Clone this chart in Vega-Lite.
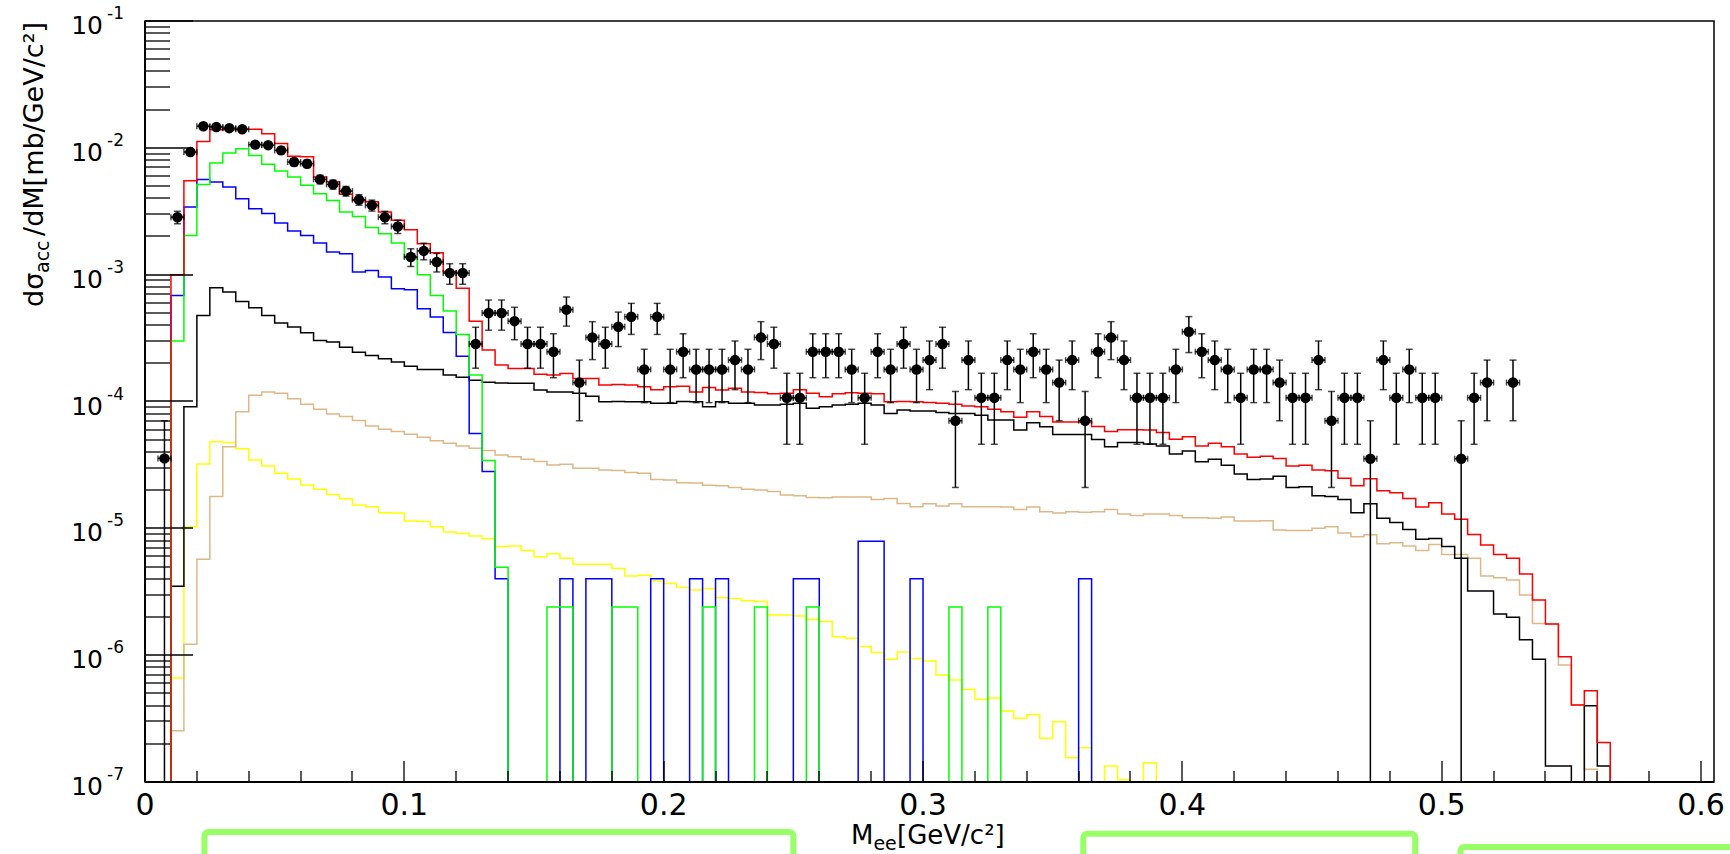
{
  "$schema": "https://vega.github.io/schema/vega-lite/v6.json",
  "autosize": {"type": "none"},
  "width": 1569,
  "height": 761,
  "padding": {"left": 145, "top": 21, "right": 16, "bottom": 72},
  "background": "white",
  "config": {
    "view": {"stroke": "black", "strokeWidth": 1.5},
    "font": "DejaVu Sans",
    "axis": {
      "grid": false,
      "labelFont": "DejaVu Sans",
      "titleFont": "DejaVu Sans",
      "labelColor": "black",
      "titleColor": "black",
      "tickColor": "black",
      "domainColor": "black",
      "titleFontWeight": "normal",
      "labelOverlap": false,
      "labelFlush": false,
      "labelBound": false,
      "translate": 0,
      "zindex": 2
    }
  },
  "datasets": {
    "hist": [
      {"lo":0,"red":1e-7,"green":1e-7,"blue":1e-7,"black":1e-7,"tan":1e-7,"yellow":1e-7},
      {"lo":0.005,"red":1e-7,"green":1e-7,"blue":1e-7,"black":1e-7,"tan":1e-7,"yellow":1e-7},
      {"lo":0.01,"red":1.0e-3,"green":3.0e-4,"blue":6.86e-4,"black":3.5e-6,"tan":2.54e-7,"yellow":6.6e-7},
      {"lo":0.015,"red":5.5e-3,"green":2.04e-3,"blue":3.41e-3,"black":9.1e-5,"tan":1.22e-6,"yellow":1.03e-5},
      {"lo":0.02,"red":1.12e-2,"green":5.15e-3,"blue":5.64e-3,"black":4.77e-4,"tan":5.7e-6,"yellow":3.21e-5},
      {"lo":0.025,"red":1.39e-2,"green":7.6e-3,"blue":5.37e-3,"black":7.88e-4,"tan":1.78e-5,"yellow":4.82e-5},
      {"lo":0.03,"red":1.39e-2,"green":9.1e-3,"blue":4.91e-3,"black":7.29e-4,"tan":4.4e-5,"yellow":4.74e-5},
      {"lo":0.035,"red":1.40e-2,"green":9.85e-3,"blue":3.97e-3,"black":6.15e-4,"tan":8.3e-5,"yellow":4.25e-5},
      {"lo":0.04,"red":1.40e-2,"green":8.72e-3,"blue":3.31e-3,"black":5.48e-4,"tan":1.12e-4,"yellow":3.46e-5},
      {"lo":0.045,"red":1.29e-2,"green":7.41e-3,"blue":3.03e-3,"black":4.77e-4,"tan":1.19e-4,"yellow":3.1e-5},
      {"lo":0.05,"red":1.08e-2,"green":6.56e-3,"blue":2.55e-3,"black":4.15e-4,"tan":1.16e-4,"yellow":2.72e-5},
      {"lo":0.055,"red":8.6e-3,"green":5.88e-3,"blue":2.21e-3,"black":3.86e-4,"tan":1.05e-4,"yellow":2.45e-5},
      {"lo":0.06,"red":8.5e-3,"green":5.06e-3,"blue":2.04e-3,"black":3.49e-4,"tan":9.5e-5,"yellow":2.2e-5},
      {"lo":0.065,"red":5.9e-3,"green":4.35e-3,"blue":1.78e-3,"black":3.03e-4,"tan":8.7e-5,"yellow":2.03e-5},
      {"lo":0.07,"red":5.4e-3,"green":3.85e-3,"blue":1.51e-3,"black":2.94e-4,"tan":7.97e-5,"yellow":1.85e-5},
      {"lo":0.075,"red":4.3e-3,"green":3.12e-3,"blue":1.46e-3,"black":2.68e-4,"tan":7.6e-5,"yellow":1.71e-5},
      {"lo":0.08,"red":3.85e-3,"green":2.88e-3,"blue":1.05e-3,"black":2.45e-4,"tan":7.07e-5,"yellow":1.53e-5},
      {"lo":0.085,"red":3.75e-3,"green":2.35e-3,"blue":1.08e-3,"black":2.31e-4,"tan":6.41e-5,"yellow":1.48e-5},
      {"lo":0.09,"red":3.12e-3,"green":2.1e-3,"blue":9.58e-4,"black":2.17e-4,"tan":6.04e-5,"yellow":1.33e-5},
      {"lo":0.095,"red":2.68e-3,"green":1.78e-3,"blue":7.75e-4,"black":2.05e-4,"tan":5.79e-5,"yellow":1.32e-5},
      {"lo":0.1,"red":2.26e-3,"green":1.36e-3,"blue":7.6e-4,"black":1.9e-4,"tan":5.51e-5,"yellow":1.14e-5},
      {"lo":0.105,"red":1.75e-3,"green":1.0e-3,"blue":5.38e-4,"black":1.79e-4,"tan":5.22e-5,"yellow":1.13e-5},
      {"lo":0.11,"red":1.49e-3,"green":6.86e-4,"blue":4.63e-4,"black":1.79e-4,"tan":4.91e-5,"yellow":1.03e-5},
      {"lo":0.115,"red":1.06e-3,"green":5.16e-4,"blue":3.5e-4,"black":1.62e-4,"tan":4.68e-5,"yellow":9.35e-6},
      {"lo":0.12,"red":7.8e-4,"green":3.38e-4,"blue":2.27e-4,"black":1.55e-4,"tan":4.46e-5,"yellow":9.1e-6},
      {"lo":0.125,"red":4.3e-4,"green":1.62e-4,"blue":5.6e-5,"black":1.47e-4,"tan":4.27e-5,"yellow":8.7e-6},
      {"lo":0.13,"red":2.55e-4,"green":3.42e-5,"blue":2.8e-5,"black":1.42e-4,"tan":4.1e-5,"yellow":8.3e-6},
      {"lo":0.135,"red":1.94e-4,"green":4.93e-6,"blue":4.0e-6,"black":1.40e-4,"tan":3.79e-5,"yellow":7.2e-6},
      {"lo":0.14,"red":1.82e-4,"green":1e-7,"blue":1e-7,"black":1.39e-4,"tan":3.67e-5,"yellow":7.25e-6},
      {"lo":0.145,"red":1.82e-4,"green":1e-7,"blue":1e-7,"black":1.39e-4,"tan":3.5e-5,"yellow":6.7e-6},
      {"lo":0.15,"red":1.64e-4,"green":1e-7,"blue":1e-7,"black":1.23e-4,"tan":3.36e-5,"yellow":5.97e-6},
      {"lo":0.155,"red":1.62e-4,"green":2.4e-6,"blue":1e-7,"black":1.19e-4,"tan":3.16e-5,"yellow":6.3e-6},
      {"lo":0.16,"red":1.66e-4,"green":2.4e-6,"blue":4.0e-6,"black":1.19e-4,"tan":3.2e-5,"yellow":5.8e-6},
      {"lo":0.165,"red":1.52e-4,"green":1e-7,"blue":1e-7,"black":1.16e-4,"tan":2.97e-5,"yellow":5.2e-6},
      {"lo":0.17,"red":1.52e-4,"green":1e-7,"blue":4.0e-6,"black":1.1e-4,"tan":2.97e-5,"yellow":5.2e-6},
      {"lo":0.175,"red":1.35e-4,"green":1e-7,"blue":4.0e-6,"black":9.96e-5,"tan":2.88e-5,"yellow":5.2e-6},
      {"lo":0.18,"red":1.36e-4,"green":2.4e-6,"blue":1e-7,"black":1.0e-4,"tan":2.86e-5,"yellow":4.83e-6},
      {"lo":0.185,"red":1.35e-4,"green":2.4e-6,"blue":1e-7,"black":9.96e-5,"tan":2.75e-5,"yellow":4.2e-6},
      {"lo":0.19,"red":1.31e-4,"green":1e-7,"blue":1e-7,"black":9.96e-5,"tan":2.72e-5,"yellow":4.27e-6},
      {"lo":0.195,"red":1.24e-4,"green":1e-7,"blue":4.0e-6,"black":9.67e-5,"tan":2.43e-5,"yellow":3.84e-6},
      {"lo":0.2,"red":1.31e-4,"green":1e-7,"blue":1e-7,"black":9.67e-5,"tan":2.41e-5,"yellow":3.68e-6},
      {"lo":0.205,"red":1.32e-4,"green":1e-7,"blue":1e-7,"black":1.0e-4,"tan":2.29e-5,"yellow":3.42e-6},
      {"lo":0.21,"red":1.19e-4,"green":1e-7,"blue":4.0e-6,"black":9.96e-5,"tan":2.28e-5,"yellow":3.26e-6},
      {"lo":0.215,"red":1.29e-4,"green":2.4e-6,"blue":1e-7,"black":9.1e-5,"tan":2.19e-5,"yellow":3.35e-6},
      {"lo":0.22,"red":1.23e-4,"green":1e-7,"blue":4.0e-6,"black":9.96e-5,"tan":2.17e-5,"yellow":2.84e-6},
      {"lo":0.225,"red":1.27e-4,"green":1e-7,"blue":1e-7,"black":9.67e-5,"tan":2.1e-5,"yellow":2.8e-6},
      {"lo":0.23,"red":1.19e-4,"green":1e-7,"blue":1e-7,"black":9.67e-5,"tan":2.03e-5,"yellow":2.69e-6},
      {"lo":0.235,"red":1.18e-4,"green":2.4e-6,"blue":1e-7,"black":9.37e-5,"tan":2.01e-5,"yellow":2.65e-6},
      {"lo":0.24,"red":1.15e-4,"green":1e-7,"blue":1e-7,"black":9.37e-5,"tan":1.95e-5,"yellow":2.07e-6},
      {"lo":0.245,"red":1.16e-4,"green":1e-7,"blue":1e-7,"black":9.5e-5,"tan":1.83e-5,"yellow":2.07e-6},
      {"lo":0.25,"red":1.24e-4,"green":1e-7,"blue":4.0e-6,"black":9.67e-5,"tan":1.81e-5,"yellow":2.04e-6},
      {"lo":0.255,"red":1.16e-4,"green":2.4e-6,"blue":4.0e-6,"black":8.83e-5,"tan":1.75e-5,"yellow":1.91e-6},
      {"lo":0.26,"red":1.09e-4,"green":1e-7,"blue":1e-7,"black":9.1e-5,"tan":1.74e-5,"yellow":1.84e-6},
      {"lo":0.265,"red":1.15e-4,"green":1e-7,"blue":1e-7,"black":9.37e-5,"tan":1.77e-5,"yellow":1.4e-6},
      {"lo":0.27,"red":1.17e-4,"green":1e-7,"blue":1e-7,"black":9.5e-5,"tan":1.77e-5,"yellow":1.36e-6},
      {"lo":0.275,"red":1.16e-4,"green":1e-7,"blue":7.9e-6,"black":9.7e-5,"tan":1.77e-5,"yellow":1.17e-6},
      {"lo":0.28,"red":1.15e-4,"green":1e-7,"blue":7.9e-6,"black":9.37e-5,"tan":1.69e-5,"yellow":1.05e-6},
      {"lo":0.285,"red":9.97e-5,"green":1e-7,"blue":1e-7,"black":8.05e-5,"tan":1.72e-5,"yellow":9.3e-7},
      {"lo":0.29,"red":1.0e-4,"green":1e-7,"blue":1e-7,"black":8.57e-5,"tan":1.57e-5,"yellow":1.06e-6},
      {"lo":0.295,"red":9.97e-5,"green":1e-7,"blue":4.0e-6,"black":8.4e-5,"tan":1.48e-5,"yellow":9.4e-7},
      {"lo":0.3,"red":9.8e-5,"green":1e-7,"blue":1e-7,"black":8.4e-5,"tan":1.56e-5,"yellow":9.0e-7},
      {"lo":0.305,"red":9.7e-5,"green":1e-7,"blue":1e-7,"black":8.2e-5,"tan":1.5e-5,"yellow":6.97e-7},
      {"lo":0.31,"red":9.5e-5,"green":2.4e-6,"blue":1e-7,"black":8.05e-5,"tan":1.56e-5,"yellow":6.37e-7},
      {"lo":0.315,"red":9.2e-5,"green":1e-7,"blue":1e-7,"black":8.05e-5,"tan":1.48e-5,"yellow":5.37e-7},
      {"lo":0.32,"red":9.1e-5,"green":1e-7,"blue":1e-7,"black":7.8e-5,"tan":1.48e-5,"yellow":4.48e-7},
      {"lo":0.325,"red":8.7e-5,"green":2.4e-6,"blue":1e-7,"black":7.14e-5,"tan":1.48e-5,"yellow":4.6e-7},
      {"lo":0.33,"red":8.3e-5,"green":1e-7,"blue":1e-7,"black":7.14e-5,"tan":1.47e-5,"yellow":3.63e-7},
      {"lo":0.335,"red":7.5e-5,"green":1e-7,"blue":1e-7,"black":5.96e-5,"tan":1.41e-5,"yellow":3.18e-7},
      {"lo":0.34,"red":8.3e-5,"green":1e-7,"blue":1e-7,"black":6.8e-5,"tan":1.47e-5,"yellow":3.4e-7},
      {"lo":0.345,"red":7.6e-5,"green":1e-7,"blue":1e-7,"black":6.33e-5,"tan":1.35e-5,"yellow":2.21e-7},
      {"lo":0.35,"red":6.9e-5,"green":1e-7,"blue":1e-7,"black":5.5e-5,"tan":1.32e-5,"yellow":2.99e-7},
      {"lo":0.355,"red":6.9e-5,"green":1e-7,"blue":1e-7,"black":5.5e-5,"tan":1.35e-5,"yellow":1.55e-7},
      {"lo":0.36,"red":6.9e-5,"green":1e-7,"blue":4.0e-6,"black":5.5e-5,"tan":1.34e-5,"yellow":1.86e-7},
      {"lo":0.365,"red":6.35e-5,"green":1e-7,"blue":1e-7,"black":5.02e-5,"tan":1.35e-5,"yellow":1e-7},
      {"lo":0.37,"red":5.8e-5,"green":1e-7,"blue":1e-7,"black":4.4e-5,"tan":1.41e-5,"yellow":1.34e-7},
      {"lo":0.375,"red":6.0e-5,"green":1e-7,"blue":1e-7,"black":4.76e-5,"tan":1.3e-5,"yellow":1.04e-7},
      {"lo":0.38,"red":6.0e-5,"green":1e-7,"blue":1e-7,"black":4.76e-5,"tan":1.26e-5,"yellow":1e-7},
      {"lo":0.385,"red":5.95e-5,"green":1e-7,"blue":1e-7,"black":4.62e-5,"tan":1.3e-5,"yellow":1.42e-7},
      {"lo":0.39,"red":5.7e-5,"green":1e-7,"blue":1e-7,"black":4.45e-5,"tan":1.3e-5,"yellow":1e-7},
      {"lo":0.395,"red":5.03e-5,"green":1e-7,"blue":1e-7,"black":3.85e-5,"tan":1.26e-5,"yellow":1e-7},
      {"lo":0.4,"red":5.28e-5,"green":1e-7,"blue":1e-7,"black":4.07e-5,"tan":1.21e-5,"yellow":1e-7},
      {"lo":0.405,"red":4.46e-5,"green":1e-7,"blue":1e-7,"black":3.35e-5,"tan":1.21e-5,"yellow":1e-7},
      {"lo":0.41,"red":4.68e-5,"green":1e-7,"blue":1e-7,"black":3.5e-5,"tan":1.2e-5,"yellow":1e-7},
      {"lo":0.415,"red":4.4e-5,"green":1e-7,"blue":1e-7,"black":3.15e-5,"tan":1.23e-5,"yellow":1e-7},
      {"lo":0.42,"red":3.86e-5,"green":1e-7,"blue":1e-7,"black":2.68e-5,"tan":1.14e-5,"yellow":1e-7},
      {"lo":0.425,"red":3.63e-5,"green":1e-7,"blue":1e-7,"black":2.43e-5,"tan":1.14e-5,"yellow":1e-7},
      {"lo":0.43,"red":3.7e-5,"green":1e-7,"blue":1e-7,"black":2.45e-5,"tan":1.15e-5,"yellow":1e-7},
      {"lo":0.435,"red":3.56e-5,"green":1e-7,"blue":1e-7,"black":2.58e-5,"tan":9.7e-6,"yellow":1e-7},
      {"lo":0.44,"red":3.1e-5,"green":1e-7,"blue":1e-7,"black":2.1e-5,"tan":9.6e-6,"yellow":1e-7},
      {"lo":0.445,"red":3.15e-5,"green":1e-7,"blue":1e-7,"black":2.13e-5,"tan":9.6e-6,"yellow":1e-7},
      {"lo":0.45,"red":2.88e-5,"green":1e-7,"blue":1e-7,"black":1.81e-5,"tan":1.0e-5,"yellow":1e-7},
      {"lo":0.455,"red":2.84e-5,"green":1e-7,"blue":1e-7,"black":1.78e-5,"tan":1.03e-5,"yellow":1e-7},
      {"lo":0.46,"red":2.48e-5,"green":1e-7,"blue":1e-7,"black":1.69e-5,"tan":9.2e-6,"yellow":1e-7},
      {"lo":0.465,"red":2.17e-5,"green":1e-7,"blue":1e-7,"black":1.33e-5,"tan":8.6e-6,"yellow":1e-7},
      {"lo":0.47,"red":2.46e-5,"green":1e-7,"blue":1e-7,"black":1.56e-5,"tan":8.9e-6,"yellow":1e-7},
      {"lo":0.475,"red":1.98e-5,"green":1e-7,"blue":1e-7,"black":1.2e-5,"tan":7.55e-6,"yellow":1e-7},
      {"lo":0.48,"red":1.91e-5,"green":1e-7,"blue":1e-7,"black":1.11e-5,"tan":7.7e-6,"yellow":1e-7},
      {"lo":0.485,"red":1.72e-5,"green":1e-7,"blue":1e-7,"black":9.8e-6,"tan":7.25e-6,"yellow":1e-7},
      {"lo":0.49,"red":1.47e-5,"green":1e-7,"blue":1e-7,"black":8.2e-6,"tan":6.7e-6,"yellow":1e-7},
      {"lo":0.495,"red":1.59e-5,"green":1e-7,"blue":1e-7,"black":8.3e-6,"tan":7.47e-6,"yellow":1e-7},
      {"lo":0.5,"red":1.3e-5,"green":1e-7,"blue":1e-7,"black":7.2e-6,"tan":6.23e-6,"yellow":1e-7},
      {"lo":0.505,"red":1.18e-5,"green":1e-7,"blue":1e-7,"black":5.8e-6,"tan":6.23e-6,"yellow":1e-7},
      {"lo":0.51,"red":8.95e-6,"green":1e-7,"blue":1e-7,"black":3.2e-6,"tan":5.8e-6,"yellow":1e-7},
      {"lo":0.515,"red":7.4e-6,"green":1e-7,"blue":1e-7,"black":3.2e-6,"tan":4.2e-6,"yellow":1e-7},
      {"lo":0.52,"red":6.23e-6,"green":1e-7,"blue":1e-7,"black":2.11e-6,"tan":4.08e-6,"yellow":1e-7},
      {"lo":0.525,"red":5.8e-6,"green":1e-7,"blue":1e-7,"black":1.99e-6,"tan":3.91e-6,"yellow":1e-7},
      {"lo":0.53,"red":4.36e-6,"green":1e-7,"blue":1e-7,"black":1.32e-6,"tan":2.98e-6,"yellow":1e-7},
      {"lo":0.535,"red":2.72e-6,"green":1e-7,"blue":1e-7,"black":9.3e-7,"tan":1.78e-6,"yellow":1e-7},
      {"lo":0.54,"red":1.76e-6,"green":1e-7,"blue":1e-7,"black":1.34e-7,"tan":1.76e-6,"yellow":1e-7},
      {"lo":0.545,"red":9.7e-7,"green":1e-7,"blue":1e-7,"black":1.34e-7,"tan":8.36e-7,"yellow":1e-7},
      {"lo":0.55,"red":4.05e-7,"green":1e-7,"blue":1e-7,"black":1e-7,"tan":4.05e-7,"yellow":1e-7},
      {"lo":0.555,"red":5.25e-7,"green":1e-7,"blue":1e-7,"black":4.0e-7,"tan":1.26e-7,"yellow":1e-7},
      {"lo":0.56,"red":2.05e-7,"green":1e-7,"blue":1e-7,"black":1.34e-7,"tan":1e-7,"yellow":1e-7},
      {"lo":0.565,"red":1e-7,"green":1e-7,"blue":1e-7,"black":1e-7,"tan":1e-7,"yellow":1e-7}
    ],
    "pts": [
      {"m":0.0075,"m0":0.005,"m1":0.01,"v":3.56e-5,"lo":1e-7,"hi":7.05e-5},
      {"m":0.0125,"m0":0.01,"m1":0.015,"v":2.84e-3,"lo":2.52e-3,"hi":3.16e-3},
      {"m":0.0175,"m0":0.015,"m1":0.02,"v":9.27e-3,"lo":8.7e-3,"hi":9.84e-3},
      {"m":0.0225,"m0":0.02,"m1":0.025,"v":1.48e-2,"lo":1.41e-2,"hi":1.55e-2},
      {"m":0.0275,"m0":0.025,"m1":0.03,"v":1.46e-2,"lo":1.39e-2,"hi":1.53e-2},
      {"m":0.0325,"m0":0.03,"m1":0.035,"v":1.43e-2,"lo":1.36e-2,"hi":1.50e-2},
      {"m":0.0375,"m0":0.035,"m1":0.04,"v":1.40e-2,"lo":1.33e-2,"hi":1.47e-2},
      {"m":0.0425,"m0":0.04,"m1":0.045,"v":1.06e-2,"lo":1.0e-2,"hi":1.12e-2},
      {"m":0.0475,"m0":0.045,"m1":0.05,"v":1.05e-2,"lo":9.9e-3,"hi":1.11e-2},
      {"m":0.0525,"m0":0.05,"m1":0.055,"v":9.55e-3,"lo":8.97e-3,"hi":1.01e-2},
      {"m":0.0575,"m0":0.055,"m1":0.06,"v":7.73e-3,"lo":7.21e-3,"hi":8.25e-3},
      {"m":0.0625,"m0":0.06,"m1":0.065,"v":7.5e-3,"lo":6.99e-3,"hi":8.01e-3},
      {"m":0.0675,"m0":0.065,"m1":0.07,"v":5.64e-3,"lo":5.2e-3,"hi":6.08e-3},
      {"m":0.0725,"m0":0.07,"m1":0.075,"v":5.15e-3,"lo":4.73e-3,"hi":5.57e-3},
      {"m":0.0775,"m0":0.075,"m1":0.08,"v":4.56e-3,"lo":4.16e-3,"hi":4.96e-3},
      {"m":0.0825,"m0":0.08,"m1":0.085,"v":3.9e-3,"lo":3.53e-3,"hi":4.27e-3},
      {"m":0.0875,"m0":0.085,"m1":0.09,"v":3.52e-3,"lo":3.17e-3,"hi":3.87e-3},
      {"m":0.0925,"m0":0.09,"m1":0.095,"v":2.84e-3,"lo":2.52e-3,"hi":3.16e-3},
      {"m":0.0975,"m0":0.095,"m1":0.1,"v":2.4e-3,"lo":2.11e-3,"hi":2.69e-3},
      {"m":0.1025,"m0":0.1,"m1":0.105,"v":1.38e-3,"lo":1.16e-3,"hi":1.6e-3},
      {"m":0.1075,"m0":0.105,"m1":0.11,"v":1.54e-3,"lo":1.31e-3,"hi":1.77e-3},
      {"m":0.1125,"m0":0.11,"m1":0.115,"v":1.26e-3,"lo":1.05e-3,"hi":1.47e-3},
      {"m":0.1175,"m0":0.115,"m1":0.12,"v":1.03e-3,"lo":8.4e-4,"hi":1.22e-3},
      {"m":0.1225,"m0":0.12,"m1":0.125,"v":1.03e-3,"lo":8.4e-4,"hi":1.22e-3},
      {"m":0.1275,"m0":0.125,"m1":0.13,"v":2.84e-4,"lo":1.83e-4,"hi":3.85e-4},
      {"m":0.1325,"m0":0.13,"m1":0.135,"v":4.98e-4,"lo":3.65e-4,"hi":6.31e-4},
      {"m":0.1375,"m0":0.135,"m1":0.14,"v":4.98e-4,"lo":3.65e-4,"hi":6.31e-4},
      {"m":0.1425,"m0":0.14,"m1":0.145,"v":4.3e-4,"lo":3.07e-4,"hi":5.53e-4},
      {"m":0.1475,"m0":0.145,"m1":0.15,"v":2.84e-4,"lo":1.83e-4,"hi":3.85e-4},
      {"m":0.1525,"m0":0.15,"m1":0.155,"v":2.84e-4,"lo":1.83e-4,"hi":3.85e-4},
      {"m":0.1575,"m0":0.155,"m1":0.16,"v":2.47e-4,"lo":1.54e-4,"hi":3.42e-4},
      {"m":0.1625,"m0":0.16,"m1":0.165,"v":5.3e-4,"lo":3.93e-4,"hi":6.67e-4},
      {"m":0.1675,"m0":0.165,"m1":0.17,"v":1.41e-4,"lo":7.05e-5,"hi":2.12e-4},
      {"m":0.1725,"m0":0.17,"m1":0.175,"v":3.2e-4,"lo":2.14e-4,"hi":4.26e-4},
      {"m":0.1775,"m0":0.175,"m1":0.18,"v":2.84e-4,"lo":1.83e-4,"hi":3.85e-4},
      {"m":0.1825,"m0":0.18,"m1":0.185,"v":3.89e-4,"lo":2.71e-4,"hi":5.07e-4},
      {"m":0.1875,"m0":0.185,"m1":0.19,"v":4.66e-4,"lo":3.38e-4,"hi":5.94e-4},
      {"m":0.1925,"m0":0.19,"m1":0.195,"v":1.79e-4,"lo":9.8e-5,"hi":2.58e-4},
      {"m":0.1975,"m0":0.195,"m1":0.2,"v":4.66e-4,"lo":3.38e-4,"hi":5.94e-4},
      {"m":0.2025,"m0":0.2,"m1":0.205,"v":1.79e-4,"lo":9.8e-5,"hi":2.58e-4},
      {"m":0.2075,"m0":0.205,"m1":0.21,"v":2.47e-4,"lo":1.54e-4,"hi":3.42e-4},
      {"m":0.2125,"m0":0.21,"m1":0.215,"v":1.79e-4,"lo":9.8e-5,"hi":2.58e-4},
      {"m":0.2175,"m0":0.215,"m1":0.22,"v":1.79e-4,"lo":9.8e-5,"hi":2.58e-4},
      {"m":0.2225,"m0":0.22,"m1":0.225,"v":1.79e-4,"lo":9.8e-5,"hi":2.58e-4},
      {"m":0.2275,"m0":0.225,"m1":0.23,"v":2.12e-4,"lo":1.24e-4,"hi":3.0e-4},
      {"m":0.2325,"m0":0.23,"m1":0.235,"v":1.79e-4,"lo":9.8e-5,"hi":2.58e-4},
      {"m":0.2375,"m0":0.235,"m1":0.24,"v":3.2e-4,"lo":2.14e-4,"hi":4.26e-4},
      {"m":0.2425,"m0":0.24,"m1":0.245,"v":2.84e-4,"lo":1.83e-4,"hi":3.85e-4},
      {"m":0.2475,"m0":0.245,"m1":0.25,"v":1.07e-4,"lo":4.6e-5,"hi":1.67e-4},
      {"m":0.2525,"m0":0.25,"m1":0.255,"v":1.07e-4,"lo":4.6e-5,"hi":1.67e-4},
      {"m":0.2575,"m0":0.255,"m1":0.26,"v":2.47e-4,"lo":1.54e-4,"hi":3.42e-4},
      {"m":0.2625,"m0":0.26,"m1":0.265,"v":2.47e-4,"lo":1.54e-4,"hi":3.42e-4},
      {"m":0.2675,"m0":0.265,"m1":0.27,"v":2.47e-4,"lo":1.54e-4,"hi":3.42e-4},
      {"m":0.2725,"m0":0.27,"m1":0.275,"v":1.79e-4,"lo":9.8e-5,"hi":2.58e-4},
      {"m":0.2775,"m0":0.275,"m1":0.28,"v":1.07e-4,"lo":4.6e-5,"hi":1.67e-4},
      {"m":0.2825,"m0":0.28,"m1":0.285,"v":2.47e-4,"lo":1.54e-4,"hi":3.42e-4},
      {"m":0.2875,"m0":0.285,"m1":0.29,"v":1.79e-4,"lo":9.8e-5,"hi":2.58e-4},
      {"m":0.2925,"m0":0.29,"m1":0.295,"v":2.84e-4,"lo":1.83e-4,"hi":3.85e-4},
      {"m":0.2975,"m0":0.295,"m1":0.3,"v":1.79e-4,"lo":9.8e-5,"hi":2.58e-4},
      {"m":0.3025,"m0":0.3,"m1":0.305,"v":2.12e-4,"lo":1.24e-4,"hi":3.0e-4},
      {"m":0.3075,"m0":0.305,"m1":0.31,"v":2.84e-4,"lo":1.83e-4,"hi":3.85e-4},
      {"m":0.3125,"m0":0.31,"m1":0.315,"v":7.05e-5,"lo":2.1e-5,"hi":1.2e-4},
      {"m":0.3175,"m0":0.315,"m1":0.32,"v":2.12e-4,"lo":1.24e-4,"hi":3.0e-4},
      {"m":0.3225,"m0":0.32,"m1":0.325,"v":1.07e-4,"lo":4.6e-5,"hi":1.67e-4},
      {"m":0.3275,"m0":0.325,"m1":0.33,"v":1.07e-4,"lo":4.6e-5,"hi":1.67e-4},
      {"m":0.3325,"m0":0.33,"m1":0.335,"v":2.12e-4,"lo":1.24e-4,"hi":3.0e-4},
      {"m":0.3375,"m0":0.335,"m1":0.34,"v":1.79e-4,"lo":9.8e-5,"hi":2.58e-4},
      {"m":0.3425,"m0":0.34,"m1":0.345,"v":2.47e-4,"lo":1.54e-4,"hi":3.42e-4},
      {"m":0.3475,"m0":0.345,"m1":0.35,"v":1.79e-4,"lo":9.8e-5,"hi":2.58e-4},
      {"m":0.3525,"m0":0.35,"m1":0.355,"v":1.41e-4,"lo":7.05e-5,"hi":2.12e-4},
      {"m":0.3575,"m0":0.355,"m1":0.36,"v":2.12e-4,"lo":1.24e-4,"hi":3.0e-4},
      {"m":0.3625,"m0":0.36,"m1":0.365,"v":7.05e-5,"lo":2.1e-5,"hi":1.2e-4},
      {"m":0.3675,"m0":0.365,"m1":0.37,"v":2.47e-4,"lo":1.54e-4,"hi":3.42e-4},
      {"m":0.3725,"m0":0.37,"m1":0.375,"v":3.2e-4,"lo":2.14e-4,"hi":4.26e-4},
      {"m":0.3775,"m0":0.375,"m1":0.38,"v":2.12e-4,"lo":1.24e-4,"hi":3.0e-4},
      {"m":0.3825,"m0":0.38,"m1":0.385,"v":1.07e-4,"lo":4.6e-5,"hi":1.67e-4},
      {"m":0.3875,"m0":0.385,"m1":0.39,"v":1.07e-4,"lo":4.6e-5,"hi":1.67e-4},
      {"m":0.3925,"m0":0.39,"m1":0.395,"v":1.07e-4,"lo":4.6e-5,"hi":1.67e-4},
      {"m":0.3975,"m0":0.395,"m1":0.4,"v":1.79e-4,"lo":9.8e-5,"hi":2.58e-4},
      {"m":0.4025,"m0":0.4,"m1":0.405,"v":3.55e-4,"lo":2.43e-4,"hi":4.67e-4},
      {"m":0.4075,"m0":0.405,"m1":0.41,"v":2.47e-4,"lo":1.54e-4,"hi":3.42e-4},
      {"m":0.4125,"m0":0.41,"m1":0.415,"v":2.12e-4,"lo":1.24e-4,"hi":3.0e-4},
      {"m":0.4175,"m0":0.415,"m1":0.42,"v":1.79e-4,"lo":9.8e-5,"hi":2.58e-4},
      {"m":0.4225,"m0":0.42,"m1":0.425,"v":1.07e-4,"lo":4.6e-5,"hi":1.67e-4},
      {"m":0.4275,"m0":0.425,"m1":0.43,"v":1.79e-4,"lo":9.8e-5,"hi":2.58e-4},
      {"m":0.4325,"m0":0.43,"m1":0.435,"v":1.79e-4,"lo":9.8e-5,"hi":2.58e-4},
      {"m":0.4375,"m0":0.435,"m1":0.44,"v":1.41e-4,"lo":7.05e-5,"hi":2.12e-4},
      {"m":0.4425,"m0":0.44,"m1":0.445,"v":1.07e-4,"lo":4.6e-5,"hi":1.67e-4},
      {"m":0.4475,"m0":0.445,"m1":0.45,"v":1.07e-4,"lo":4.6e-5,"hi":1.67e-4},
      {"m":0.4525,"m0":0.45,"m1":0.455,"v":2.12e-4,"lo":1.24e-4,"hi":3.0e-4},
      {"m":0.4575,"m0":0.455,"m1":0.46,"v":7.05e-5,"lo":2.1e-5,"hi":1.2e-4},
      {"m":0.4625,"m0":0.46,"m1":0.465,"v":1.07e-4,"lo":4.6e-5,"hi":1.67e-4},
      {"m":0.4675,"m0":0.465,"m1":0.47,"v":1.07e-4,"lo":4.6e-5,"hi":1.67e-4},
      {"m":0.4725,"m0":0.47,"m1":0.475,"v":3.54e-5,"lo":1e-7,"hi":7.05e-5},
      {"m":0.4775,"m0":0.475,"m1":0.48,"v":2.12e-4,"lo":1.24e-4,"hi":3.0e-4},
      {"m":0.4825,"m0":0.48,"m1":0.485,"v":1.07e-4,"lo":4.6e-5,"hi":1.67e-4},
      {"m":0.4875,"m0":0.485,"m1":0.49,"v":1.79e-4,"lo":9.8e-5,"hi":2.58e-4},
      {"m":0.4925,"m0":0.49,"m1":0.495,"v":1.07e-4,"lo":4.6e-5,"hi":1.67e-4},
      {"m":0.4975,"m0":0.495,"m1":0.5,"v":1.07e-4,"lo":4.6e-5,"hi":1.67e-4},
      {"m":0.5075,"m0":0.505,"m1":0.51,"v":3.54e-5,"lo":1e-7,"hi":7.05e-5},
      {"m":0.5125,"m0":0.51,"m1":0.515,"v":1.07e-4,"lo":4.6e-5,"hi":1.67e-4},
      {"m":0.5175,"m0":0.515,"m1":0.52,"v":1.41e-4,"lo":7.05e-5,"hi":2.12e-4},
      {"m":0.5275,"m0":0.525,"m1":0.53,"v":1.41e-4,"lo":7.05e-5,"hi":2.12e-4}
    ],
    "boxes": [
      {"b0":0.0229,"b1":0.25,"top":4.04e-8,"bottom":1e-8},
      {"b0":0.3618,"b1":0.4898,"top":3.91e-8,"bottom":1e-8},
      {"b0":0.5072,"b1":0.63,"top":3.07e-8,"bottom":1e-8}
    ]
  },
  "resolve": {"axis": {"x": "independent", "y": "independent"}},
  "layer": [
    {
      "data": {"name": "hist"},
      "mark": {"type": "line", "interpolate": "step-after", "color": "#ffff00", "strokeWidth": 1.5},
      "encoding": {
        "x": {"field": "lo", "type": "quantitative",
          "scale": {"domain": [0, 0.605], "nice": false, "zero": false},
          "axis": {"orient": "bottom", "zindex": 2, "translate": 0, "values": [0, 0.1, 0.2, 0.3, 0.4, 0.5, 0.6],
            "ticks": false, "tickSize": 0, "domain": true, "domainWidth": 2.2,
            "labelFontSize": 30, "labelPadding": 9, "labelBaseline": "top",
            "labelExpr": "datum.value == 0 ? '0' : format(datum.value, '.1f')",
            "title": "M", "titleFontSize": 26,
            "titleX": 706, "titleY": 62, "titleAlign": "left", "titleBaseline": "alphabetic"}},
        "y": {"field": "yellow", "type": "quantitative",
          "scale": {"type": "log", "domain": [1e-7, 0.1], "nice": false},
          "axis": {"orient": "left", "zindex": 2, "translate": 0, "values": [1e-7, 1e-6, 1e-5, 1e-4, 1e-3, 1e-2, 1e-1],
            "ticks": false, "tickSize": 0, "domain": true, "domainWidth": 2,
            "labelExpr": "'10'", "labelFontSize": 25, "labelAlign": "right", "labelBaseline": "middle",
            "labelPadding": 42, "labelOffset": 5,
            "title": "dσ", "titleFontSize": 27, "titleAngle": 270, "titleAlign": "left",
            "titleBaseline": "alphabetic", "titleX": -102, "titleY": 286}}
      }
    },
    {
      "data": {"name": "hist"},
      "mark": {"type": "line", "interpolate": "step-after", "color": "#deb887", "strokeWidth": 1.5},
      "encoding": {
        "x": {"field": "lo", "type": "quantitative",
          "scale": {"domain": [0, 0.605], "nice": false, "zero": false},
          "axis": {"orient": "bottom", "zindex": 2, "translate": 0, "values": [0, 0.1, 0.2, 0.3, 0.4, 0.5, 0.6],
            "labels": false, "domain": false, "tickSize": -21, "tickWidth": 1.3,
            "title": "ee", "titleFontSize": 19,
            "titleX": 728.4, "titleY": 68, "titleAlign": "left", "titleBaseline": "alphabetic"}},
        "y": {"field": "tan", "type": "quantitative",
          "scale": {"type": "log", "domain": [1e-7, 0.1], "nice": false},
          "axis": {"orient": "left", "zindex": 2, "translate": 0, "values": [1e-7, 1e-6, 1e-5, 1e-4, 1e-3, 1e-2, 1e-1],
            "ticks": false, "tickSize": 0, "domain": false,
            "labelExpr": "'-' + format(-log(datum.value) / LN10, '.0f')",
            "labelFontSize": 17, "labelAlign": "left", "labelBaseline": "middle",
            "labelPadding": 38, "labelOffset": -7,
            "title": "acc", "titleFontSize": 19, "titleAngle": 270, "titleAlign": "left",
            "titleBaseline": "alphabetic", "titleX": -96, "titleY": 252}}
      }
    },
    {
      "data": {"name": "hist"},
      "mark": {"type": "line", "interpolate": "step-after", "color": "#000000", "strokeWidth": 1.5},
      "encoding": {
        "x": {"field": "lo", "type": "quantitative",
          "scale": {"domain": [0, 0.605], "nice": false, "zero": false},
          "axis": {"orient": "bottom", "zindex": 2, "translate": 0,
            "values": [0.02, 0.04, 0.06, 0.08, 0.12, 0.14, 0.16, 0.18, 0.22, 0.24, 0.26, 0.28, 0.32, 0.34, 0.36, 0.38, 0.42, 0.44, 0.46, 0.48, 0.52, 0.54, 0.56, 0.58],
            "labels": false, "domain": false, "tickSize": -11, "tickWidth": 1.3,
            "title": "[GeV/c²]", "titleFontSize": 26,
            "titleX": 752, "titleY": 62, "titleAlign": "left", "titleBaseline": "alphabetic"}},
        "y": {"field": "black", "type": "quantitative",
          "scale": {"type": "log", "domain": [1e-7, 0.1], "nice": false},
          "axis": {"orient": "left", "zindex": 2, "translate": 0, "values": [1e-7, 1e-6, 1e-5, 1e-4, 1e-3, 1e-2, 1e-1],
            "labels": false, "domain": false, "tickSize": -48, "tickWidth": 1.3,
            "title": "/dM[mb/GeV/c²]", "titleFontSize": 27, "titleAngle": 270, "titleAlign": "right",
            "titleBaseline": "alphabetic", "titleX": -102, "titleY": 1}}
      }
    },
    {
      "data": {"name": "hist"},
      "mark": {"type": "line", "interpolate": "step-after", "color": "#0000ff", "strokeWidth": 1.5},
      "encoding": {
        "x": {"field": "lo", "type": "quantitative", "scale": {"domain": [0, 0.605], "nice": false, "zero": false}, "axis": null},
        "y": {"field": "blue", "type": "quantitative",
          "scale": {"type": "log", "domain": [1e-7, 0.1], "nice": false},
          "axis": {"orient": "left", "zindex": 2, "translate": 0,
            "values": [2e-7, 3e-7, 4e-7, 5e-7, 6e-7, 7e-7, 8e-7, 9e-7, 2e-6, 3e-6, 4e-6, 5e-6, 6e-6, 7e-6, 8e-6, 9e-6, 2e-5, 3e-5, 4e-5, 5e-5, 6e-5, 7e-5, 8e-5, 9e-5, 2e-4, 3e-4, 4e-4, 5e-4, 6e-4, 7e-4, 8e-4, 9e-4, 2e-3, 3e-3, 4e-3, 5e-3, 6e-3, 7e-3, 8e-3, 9e-3, 2e-2, 3e-2, 4e-2, 5e-2, 6e-2, 7e-2, 8e-2, 9e-2],
            "labels": false, "domain": false, "tickSize": -25, "tickWidth": 1.3, "title": null}}
      }
    },
    {
      "data": {"name": "hist"},
      "mark": {"type": "line", "interpolate": "step-after", "color": "#00ff00", "strokeWidth": 1.5},
      "encoding": {
        "x": {"field": "lo", "type": "quantitative", "scale": {"domain": [0, 0.605], "nice": false, "zero": false}, "axis": null},
        "y": {"field": "green", "type": "quantitative", "scale": {"type": "log", "domain": [1e-7, 0.1], "nice": false}, "axis": null}
      }
    },
    {
      "data": {"name": "hist"},
      "mark": {"type": "line", "interpolate": "step-after", "color": "#ff0000", "strokeWidth": 1.5},
      "encoding": {
        "x": {"field": "lo", "type": "quantitative", "scale": {"domain": [0, 0.605], "nice": false, "zero": false}, "axis": null},
        "y": {"field": "red", "type": "quantitative", "scale": {"type": "log", "domain": [1e-7, 0.1], "nice": false}, "axis": null}
      }
    },
    {
      "data": {"name": "pts"},
      "mark": {"type": "rule", "color": "black", "strokeWidth": 1.5},
      "encoding": {
        "x": {"field": "m", "type": "quantitative", "scale": {"domain": [0, 0.605], "nice": false, "zero": false}, "axis": null},
        "y": {"field": "lo", "type": "quantitative", "scale": {"type": "log", "domain": [1e-7, 0.1], "nice": false}, "axis": null},
        "y2": {"field": "hi"}
      }
    },
    {
      "data": {"name": "pts"},
      "mark": {"type": "rule", "color": "black", "strokeWidth": 1.5},
      "encoding": {
        "x": {"field": "m0", "type": "quantitative", "scale": {"domain": [0, 0.605], "nice": false, "zero": false}, "axis": null},
        "x2": {"field": "m1"},
        "y": {"field": "v", "type": "quantitative", "scale": {"type": "log", "domain": [1e-7, 0.1], "nice": false}, "axis": null}
      }
    },
    {
      "data": {"name": "pts"},
      "mark": {"type": "tick", "orient": "horizontal", "size": 7, "thickness": 1.5, "color": "black"},
      "encoding": {
        "x": {"field": "m", "type": "quantitative", "scale": {"domain": [0, 0.605], "nice": false, "zero": false}, "axis": null},
        "y": {"field": "hi", "type": "quantitative", "scale": {"type": "log", "domain": [1e-7, 0.1], "nice": false}, "axis": null}
      }
    },
    {
      "data": {"name": "pts"},
      "transform": [{"filter": "datum.lo > 1.5e-7"}],
      "mark": {"type": "tick", "orient": "horizontal", "size": 7, "thickness": 1.5, "color": "black"},
      "encoding": {
        "x": {"field": "m", "type": "quantitative", "scale": {"domain": [0, 0.605], "nice": false, "zero": false}, "axis": null},
        "y": {"field": "lo", "type": "quantitative", "scale": {"type": "log", "domain": [1e-7, 0.1], "nice": false}, "axis": null}
      }
    },
    {
      "data": {"name": "pts"},
      "mark": {"type": "tick", "orient": "vertical", "size": 6, "thickness": 1.5, "color": "black"},
      "encoding": {
        "x": {"field": "m0", "type": "quantitative", "scale": {"domain": [0, 0.605], "nice": false, "zero": false}, "axis": null},
        "y": {"field": "v", "type": "quantitative", "scale": {"type": "log", "domain": [1e-7, 0.1], "nice": false}, "axis": null}
      }
    },
    {
      "data": {"name": "pts"},
      "mark": {"type": "tick", "orient": "vertical", "size": 6, "thickness": 1.5, "color": "black"},
      "encoding": {
        "x": {"field": "m1", "type": "quantitative", "scale": {"domain": [0, 0.605], "nice": false, "zero": false}, "axis": null},
        "y": {"field": "v", "type": "quantitative", "scale": {"type": "log", "domain": [1e-7, 0.1], "nice": false}, "axis": null}
      }
    },
    {
      "data": {"name": "pts"},
      "mark": {"type": "point", "shape": "circle", "filled": true, "size": 110, "color": "black", "opacity": 1},
      "encoding": {
        "x": {"field": "m", "type": "quantitative", "scale": {"domain": [0, 0.605], "nice": false, "zero": false}, "axis": null},
        "y": {"field": "v", "type": "quantitative", "scale": {"type": "log", "domain": [1e-7, 0.1], "nice": false}, "axis": null}
      }
    },
    {
      "data": {"name": "boxes"},
      "mark": {"type": "rect", "fillOpacity": 0, "stroke": "#99ff66", "strokeWidth": 6, "cornerRadius": 4},
      "encoding": {
        "x": {"field": "b0", "type": "quantitative", "scale": {"domain": [0, 0.605], "nice": false, "zero": false}, "axis": null},
        "x2": {"field": "b1"},
        "y": {"field": "top", "type": "quantitative", "scale": {"type": "log", "domain": [1e-7, 0.1], "nice": false}, "axis": null},
        "y2": {"field": "bottom"}
      }
    }
  ]
}
